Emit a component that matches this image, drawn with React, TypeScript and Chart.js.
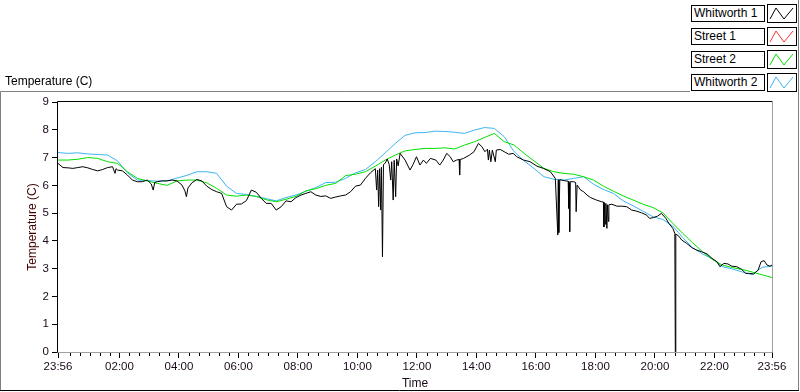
import React, { useEffect, useRef } from 'react';
import { Chart, registerables } from 'chart.js';

Chart.register(...registerables);

// ---- series meta ----
const seriesNames = ['Whitworth 1', 'Street 1', 'Street 2', 'Whitworth 2'];
const seriesColors = ['#000000', '#ff3030', '#00e000', '#3cb4f0'];

// ---- axis ticks (x in minutes since midnight; 23:56 previous day = -4) ----
const xTickValues = [-4, 120, 240, 360, 480, 600, 720, 840, 960, 1080, 1200, 1320, 1436];
const xTickLabels = ['23:56', '02:00', '04:00', '06:00', '08:00', '10:00', '12:00', '14:00', '16:00', '18:00', '20:00', '22:00', '23:56'];
const yTickValues = [0, 1, 2, 3, 4, 5, 6, 7, 8, 9];

// ---- sampled every 20 minutes ----
const sampleTimes = [
  -4, 16, 36, 56, 76, 96, 116, 136, 156, 176, 196, 216, 236, 256, 276, 296, 316, 336, 356, 376,
  396, 416, 436, 456, 476, 496, 516, 536, 556, 576, 596, 616, 636, 656, 676, 696, 716, 736, 756, 776,
  796, 816, 836, 856, 876, 896, 916, 936, 956, 976, 996, 1016, 1036, 1056, 1076, 1096, 1116, 1136, 1156, 1176,
  1196, 1216, 1236, 1256, 1276, 1296, 1316, 1336, 1356, 1376, 1396, 1416, 1436,
];
const street2 = [
  6.91, 6.91, 6.94, 7.0, 6.97, 6.85, 6.79, 6.49, 6.25, 6.16, 6.07, 6.0, 6.16, 6.19, 6.19, 6.09, 5.89, 5.65, 5.61, 5.65,
  5.6, 5.48, 5.41, 5.5, 5.6, 5.8, 5.88, 6.0, 6.07, 6.35, 6.4, 6.49, 6.69, 6.91, 7.09, 7.24, 7.29, 7.33, 7.33, 7.35,
  7.31, 7.45, 7.57, 7.72, 7.87, 7.57, 7.45, 7.15, 6.88, 6.61, 6.49, 6.43, 6.4, 6.31, 6.19, 5.97, 5.79, 5.62, 5.47, 5.32,
  5.2, 5.01, 4.63, 4.27, 3.93, 3.61, 3.33, 3.13, 3.04, 2.97, 2.88, 2.78, 2.68,
];
const whitworth2 = [
  7.18, 7.15, 7.17, 7.13, 7.11, 7.09, 6.88, 6.45, 6.19, 6.17, 6.15, 6.16, 6.26, 6.36, 6.49, 6.49, 6.43, 5.97, 5.71, 5.67,
  5.6, 5.52, 5.44, 5.56, 5.65, 5.79, 5.92, 6.1, 6.11, 6.25, 6.45, 6.57, 6.85, 7.17, 7.5, 7.8, 7.89, 7.9, 7.95, 7.94,
  7.91, 7.87, 7.99, 8.08, 8.05, 7.75, 7.21, 6.88, 6.61, 6.31, 6.22, 6.19, 6.25, 6.31, 6.04, 5.85, 5.71, 5.44, 5.26, 5.07,
  4.87, 4.77, 4.53, 4.12, 3.75, 3.53, 3.35, 3.07, 2.99, 2.88, 2.78, 3.05, 3.09,
];
const street1: number[] = [];

// ---- Whitworth 1 (irregular samples, includes dropouts) ----
const whitworth1Times = [
  -4, 6, 16, 26, 36, 46, 56, 66, 76, 86, 96, 106, 111, 113, 116, 126, 136, 146, 156, 166,
  176, 184, 188, 191, 196, 206, 216, 226, 236, 246, 252, 255, 258, 266, 276, 286, 296, 306, 316, 326,
  336, 346, 356, 366, 376, 386, 396, 406, 416, 426, 436, 446, 456, 466, 476, 486, 496, 506, 516, 526,
  536, 546, 556, 566, 576, 586, 596, 606, 616, 626, 636, 638.6, 640.7, 642.7, 644.7, 646.7, 648.3, 650.4, 652.4, 656,
  660, 664, 667, 669, 672, 674, 677, 679, 682, 686, 696, 706, 712, 719, 726, 733, 739, 747, 758, 766,
  773, 780, 787, 793, 800, 805, 806, 807, 814, 826, 835, 844, 851, 857, 862, 864, 866, 869, 872, 878,
  880, 888, 896, 905, 914, 921, 935, 948, 962, 975, 989, 999, 1004, 1005, 1006, 1008, 1012, 1019, 1025, 1026,
  1027, 1028, 1029, 1036, 1040, 1041, 1043, 1050, 1056, 1063, 1070, 1082, 1092, 1096, 1097, 1098, 1100, 1101, 1103, 1104,
  1106, 1107, 1113, 1123, 1133, 1143, 1153, 1163, 1173, 1183, 1189, 1197, 1205, 1213, 1222, 1228, 1236, 1240, 1241, 1242,
  1248, 1254, 1264, 1274, 1284, 1294, 1305, 1315, 1325, 1331, 1339, 1347, 1355, 1365, 1375, 1383, 1391, 1399, 1408, 1414,
  1420, 1426, 1432, 1436,
];
const whitworth1 = [
  6.79, 6.64, 6.63, 6.61, 6.64, 6.67, 6.63, 6.57, 6.52, 6.57, 6.64, 6.67, 6.43, 6.6, 6.55, 6.52, 6.37, 6.19, 6.13, 6.13,
  6.19, 6.05, 5.83, 6.1, 6.13, 6.16, 6.16, 6.19, 6.16, 6.01, 5.8, 5.59, 5.9, 6.09, 6.21, 6.16, 5.97, 5.85, 5.77, 5.71,
  5.23, 5.11, 5.32, 5.33, 5.45, 5.83, 5.75, 5.53, 5.35, 5.35, 5.11, 5.23, 5.44, 5.41, 5.56, 5.65, 5.71, 5.77, 5.65, 5.6,
  5.62, 5.53, 5.58, 5.62, 5.65, 5.77, 5.97, 6.01, 6.25, 6.45, 6.6, 5.83, 6.55, 5.23, 6.6, 5.11, 6.65, 3.43, 6.75, 6.8,
  6.95, 6.75, 6.19, 6.85, 5.47, 6.9, 5.59, 6.95, 6.7, 7.15, 6.91, 6.55, 6.75, 7.03, 6.73, 6.91, 6.79, 6.97, 6.91, 6.73,
  6.91, 7.15, 7.03, 6.85, 6.91, 6.93, 6.37, 6.93, 6.97, 7.09, 7.21, 7.51, 7.39, 7.21, 7.3, 6.91, 7.27, 6.85, 7.27, 6.85,
  7.27, 7.29, 7.21, 7.12, 7.15, 7.03, 6.91, 6.85, 6.69, 6.61, 6.49, 6.25, 4.21, 6.2, 4.3, 6.2, 6.19, 6.16, 6.15, 5.17,
  6.1, 4.33, 6.13, 6.13, 6.1, 5.05, 6.01, 5.83, 5.77, 5.65, 5.56, 5.47, 5.41, 5.4, 4.5, 5.35, 4.6, 5.35, 4.45, 5.3,
  4.7, 5.3, 5.32, 5.25, 5.25, 5.23, 5.11, 5.07, 5.01, 4.93, 4.81, 4.84, 4.89, 4.99, 4.81, 4.63, 4.45, 4.27, 0, 4.25,
  4.17, 4.03, 3.91, 3.76, 3.67, 3.61, 3.53, 3.37, 3.25, 3.07, 3.19, 3.17, 3.09, 3.07, 2.97, 2.83, 2.83, 2.81, 2.95, 3.25,
  3.29, 3.13, 3.09, 3.13,
];

const FONT = "'Liberation Sans', Arial, sans-serif";
const TEXT_COLOR = '#1a0a1a';

const pairs = (xs: number[], ys: number[]) => ys.map((y, i) => ({ x: xs[i], y }));

const framePlugin = {
  id: 'labviewFrame',
  afterDatasetsDraw(chart: any) {
    const { ctx, chartArea } = chart;
    const { left, right, top, bottom } = chartArea;
    const xs = chart.scales.x;
    ctx.save();
    ctx.lineWidth = 1;
    // minor x ticks every 20 minutes
    ctx.strokeStyle = '#000';
    ctx.beginPath();
    for (let m = 0; m < 1436; m += 20) {
      if (m % 120 === 0) continue;
      const px = Math.round(xs.getPixelForValue(m)) + 0.5;
      ctx.moveTo(px, bottom + 1);
      ctx.lineTo(px, bottom + 4);
    }
    ctx.stroke();
    // plot frame: dark top/left, light bottom/right
    const L = Math.round(left) - 0.5;
    const T = Math.round(top) - 0.5;
    const R = Math.round(right) + 0.5;
    const B = Math.round(bottom) + 0.5;
    ctx.strokeStyle = '#000';
    ctx.beginPath();
    ctx.moveTo(L, B);
    ctx.lineTo(L, T);
    ctx.lineTo(R, T);
    ctx.stroke();
    ctx.strokeStyle = '#a0a0a0';
    ctx.beginPath();
    ctx.moveTo(R, T);
    ctx.lineTo(R, B);
    ctx.lineTo(L, B);
    ctx.stroke();
    // outer panel frame
    ctx.strokeStyle = '#808080';
    ctx.beginPath();
    ctx.moveTo(0.5, 391);
    ctx.lineTo(0.5, 91.5);
    ctx.lineTo(690, 91.5);
    ctx.moveTo(798.5, 0);
    ctx.lineTo(798.5, 391);
    ctx.stroke();
    ctx.strokeStyle = '#000';
    ctx.beginPath();
    ctx.moveTo(0, 390.5);
    ctx.lineTo(799, 390.5);
    ctx.stroke();
    ctx.restore();
  },
};

function LegendIcon({ color }: { color: string }) {
  return (
    <svg width={30} height={19} style={{ display: 'block' }}>
      <rect x={0.5} y={0.5} width={29} height={18} fill="#fff" stroke="#000" />
      <polyline points="3,15 9,4 17,15 26,4" fill="none" stroke={color} strokeWidth={1} />
    </svg>
  );
}

export default function App() {
  const canvasRef = useRef<HTMLCanvasElement>(null);

  useEffect(() => {
    const datasets = [
      { label: seriesNames[0], data: pairs(whitworth1Times, whitworth1), borderColor: seriesColors[0] },
      { label: seriesNames[1], data: pairs(sampleTimes, street1), borderColor: seriesColors[1] },
      { label: seriesNames[2], data: pairs(sampleTimes, street2), borderColor: seriesColors[2] },
      { label: seriesNames[3], data: pairs(sampleTimes, whitworth2), borderColor: seriesColors[3] },
    ].map((d) => ({ ...d, borderWidth: 1, pointRadius: 0, fill: false, tension: 0 }));

    const chart = new Chart(canvasRef.current as HTMLCanvasElement, {
      type: 'line',
      data: { datasets },
      plugins: [framePlugin],
      options: {
        animation: false,
        responsive: false,
        devicePixelRatio: 1,
        layout: { padding: { top: 102, right: 28, bottom: 0, left: 0 } },
        plugins: { legend: { display: false }, tooltip: { enabled: false } },
        scales: {
          x: {
            type: 'linear',
            min: -4,
            max: 1436,
            afterFit: (s: any) => {
              s.height = 40;
            },
            afterBuildTicks: (s: any) => {
              s.ticks = xTickValues.map((v) => ({ value: v }));
            },
            border: { display: false },
            grid: { drawOnChartArea: false, drawTicks: true, tickLength: 6, color: '#000' },
            ticks: {
              autoSkip: false,
              maxRotation: 0,
              padding: 2,
              color: TEXT_COLOR,
              font: { family: FONT, size: 11.5 },
              callback: (v: any) => {
                const i = xTickValues.indexOf(Number(v));
                return i >= 0 ? xTickLabels[i] : '';
              },
            },
            title: {
              display: true,
              text: 'Time',
              color: TEXT_COLOR,
              font: { family: FONT, size: 12 },
              padding: { top: 0, bottom: 1 },
            },
          },
          y: {
            type: 'linear',
            min: 0,
            max: 9,
            afterFit: (s: any) => {
              s.width = 58;
            },
            afterBuildTicks: (s: any) => {
              s.ticks = yTickValues.map((v) => ({ value: v }));
            },
            border: { display: false },
            grid: { drawOnChartArea: false, drawTicks: true, tickLength: 6, color: '#000' },
            ticks: {
              padding: 3,
              color: TEXT_COLOR,
              font: { family: FONT, size: 11.5 },
            },
            title: {
              display: true,
              text: 'Temperature (C)',
              color: '#400000',
              font: { family: FONT, size: 12 },
              padding: { top: 25, bottom: 0 },
            },
          },
        },
      },
    } as any);
    return () => chart.destroy();
  }, []);

  const rowTop = [4, 27, 50, 73];

  return (
    <div
      style={{
        position: 'absolute',
        left: 0,
        top: 0,
        width: 800,
        height: 392,
        background: '#fff',
        overflow: 'hidden',
        fontFamily: FONT,
      }}
    >
      <canvas ref={canvasRef} width={800} height={392} style={{ position: 'absolute', left: 0, top: 0, width: 800, height: 392 }} />
      <div style={{ position: 'absolute', left: 5, top: 73, fontSize: 12, color: '#000', lineHeight: '16px' }}>Temperature (C)</div>
      {seriesNames.map((name, i) => (
        <div key={name} style={{ position: 'absolute', left: 691, top: rowTop[i], width: 108, height: 19 }}>
          <div
            style={{
              position: 'absolute',
              left: 0,
              top: 1,
              width: 70,
              height: 15,
              border: '1px solid #000',
              background: '#fff',
              fontSize: 12,
              lineHeight: '15px',
              paddingLeft: 2,
              boxSizing: 'content-box',
              whiteSpace: 'nowrap',
              color: '#000',
            }}
          >
            {name}
          </div>
          <div style={{ position: 'absolute', left: 76, top: 0 }}>
            <LegendIcon color={seriesColors[i]} />
          </div>
        </div>
      ))}
    </div>
  );
}
